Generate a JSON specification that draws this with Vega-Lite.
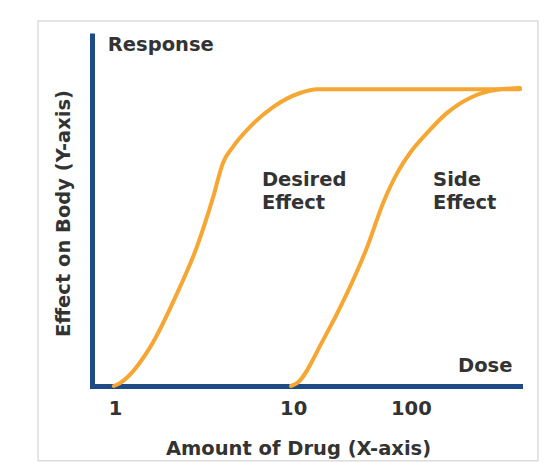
{
  "$schema": "https://vega.github.io/schema/vega-lite/v6.json",
  "width": 428,
  "height": 353,
  "autosize": {"type": "none"},
  "padding": {"left": 92, "top": 33, "right": 26, "bottom": 77},
  "background": "white",
  "config": {"view": {"stroke": null}, "font": "DejaVu Sans"},
  "datasets": {
    "curves": [
      {"curve": "Desired", "x": 5.1, "y": 0},
      {"curve": "Desired", "x": 6.5, "y": 0.8},
      {"curve": "Desired", "x": 13.6, "y": 11.0},
      {"curve": "Desired", "x": 19.9, "y": 26.3},
      {"curve": "Desired", "x": 24.5, "y": 39.4},
      {"curve": "Desired", "x": 28.3, "y": 53.5},
      {"curve": "Desired", "x": 30.6, "y": 63.2},
      {"curve": "Desired", "x": 32.9, "y": 67.7},
      {"curve": "Desired", "x": 36.9, "y": 73.4},
      {"curve": "Desired", "x": 42.3, "y": 79.0},
      {"curve": "Desired", "x": 48.6, "y": 83.0},
      {"curve": "Desired", "x": 52.6, "y": 84.1},
      {"curve": "Desired", "x": 100, "y": 84.1},
      {"curve": "Side", "x": 46.5, "y": 0},
      {"curve": "Side", "x": 47.9, "y": 0.8},
      {"curve": "Side", "x": 54.0, "y": 13.0},
      {"curve": "Side", "x": 59.6, "y": 26.3},
      {"curve": "Side", "x": 64.3, "y": 39.4},
      {"curve": "Side", "x": 68.0, "y": 51.8},
      {"curve": "Side", "x": 71.3, "y": 60.3},
      {"curve": "Side", "x": 74.3, "y": 66.0},
      {"curve": "Side", "x": 78.3, "y": 71.7},
      {"curve": "Side", "x": 82.9, "y": 77.3},
      {"curve": "Side", "x": 88.3, "y": 81.6},
      {"curve": "Side", "x": 94.6, "y": 83.9},
      {"curve": "Side", "x": 100, "y": 84.4}
    ],
    "labels": [
      {"text": "Response", "x": 3.7, "y": 96.6},
      {"text": "Dose", "x": 85.5, "y": 5.7},
      {"text": "Desired", "x": 39.7, "y": 58.4},
      {"text": "Effect", "x": 39.7, "y": 51.8},
      {"text": "Side", "x": 79.7, "y": 58.4},
      {"text": "Effect", "x": 79.7, "y": 51.8}
    ]
  },
  "layer": [
    {
      "data": {"values": [{}]},
      "mark": {"type": "rect", "fill": null, "stroke": "#dcdcdc", "strokeWidth": 1.5},
      "encoding": {
        "x": {"datum": -12.6, "type": "quantitative", "scale": {"domain": [0, 100]}},
        "x2": {"datum": 104.2},
        "y": {"datum": 103.4, "type": "quantitative", "scale": {"domain": [0, 100]}},
        "y2": {"datum": -21.2}
      }
    },
    {
      "data": {"name": "curves"},
      "mark": {"type": "line", "color": "#f6a632", "strokeWidth": 4, "interpolate": "monotone", "strokeCap": "round"},
      "encoding": {
        "x": {
          "field": "x", "type": "quantitative",
          "scale": {"domain": [0, 100]},
          "axis": {
            "title": "Amount of Drug (X-axis)",
            "values": [5.4, 47, 74.5],
            "labelExpr": "datum.value < 20 ? '1' : (datum.value < 60 ? '10' : '100')",
            "grid": false, "ticks": false, "tickSize": 0,
            "domainColor": "#1e4a86", "domainWidth": 5, "domainCap": "square",
            "labelFont": "DejaVu Sans", "labelFontWeight": "bold", "labelFontSize": 19.5,
            "labelColor": "#333333", "labelPadding": 22, "labelBaseline": "middle",
            "labelFlush": false, "labelOverlap": false,
            "titleFont": "DejaVu Sans", "titleFontWeight": "bold", "titleFontSize": 19.5,
            "titleColor": "#333333", "titleX": 206, "titleY": 62,
            "titleBaseline": "middle", "titleAlign": "center", "titleAnchor": null
          }
        },
        "y": {
          "field": "y", "type": "quantitative",
          "scale": {"domain": [0, 100]},
          "axis": {
            "title": "Effect on Body (Y-axis)",
            "labels": false, "grid": false, "ticks": false, "tickSize": 0,
            "domainColor": "#1e4a86", "domainWidth": 5, "domainCap": "butt",
            "titleFont": "DejaVu Sans", "titleFontWeight": "bold", "titleFontSize": 19.5,
            "titleColor": "#333333", "titleX": -29, "titleY": 180, "titleAngle": -90,
            "titleBaseline": "middle", "titleAlign": "center", "titleAnchor": null
          }
        },
        "detail": {"field": "curve"}
      }
    },
    {
      "data": {"name": "labels"},
      "mark": {"type": "text", "align": "left", "baseline": "middle", "font": "DejaVu Sans", "fontWeight": "bold", "fontSize": 19.5, "color": "#333333"},
      "encoding": {
        "x": {"field": "x", "type": "quantitative"},
        "y": {"field": "y", "type": "quantitative"},
        "text": {"field": "text"}
      }
    }
  ]
}
